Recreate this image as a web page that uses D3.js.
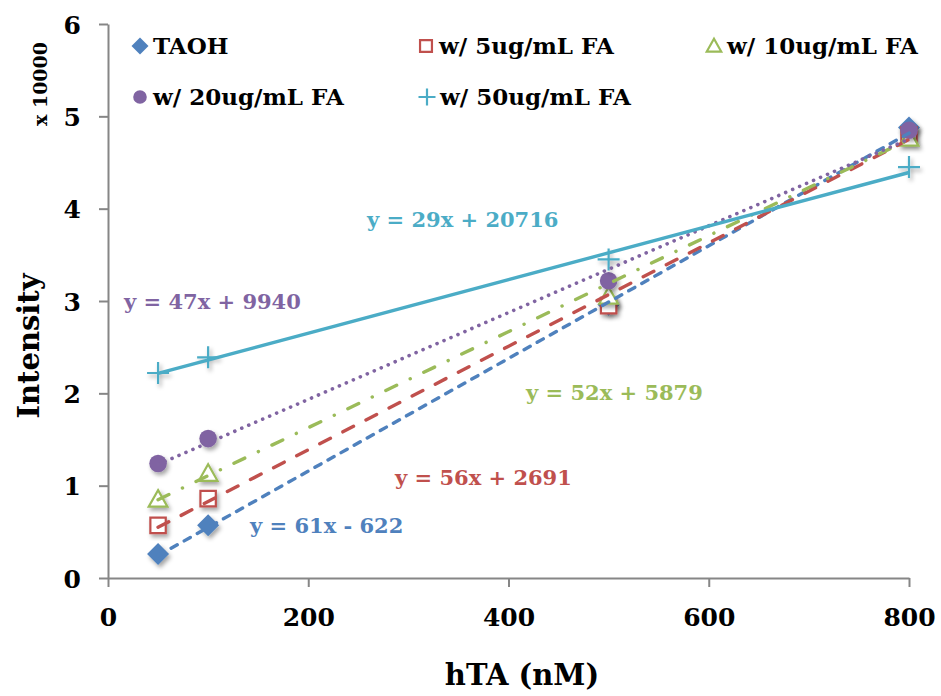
<!DOCTYPE html>
<html>
<head>
<meta charset="utf-8">
<script src="https://cdn.jsdelivr.net/npm/d3@7"></script>
<style>
  body { margin: 0; background: #fff; }
  svg text { font-family: "DejaVu Serif", serif; font-weight: bold; }
</style>
</head>
<body>
<script>
// concentrations on the x axis (nM)
const concs = [50, 100, 500, 800];

// measured intensity, in units of 10000
const taoh   = [0.26, 0.57, 2.96, 4.88];
const fa5    = [0.57, 0.86, 2.95, 4.80];
const fa10   = [0.85, 1.13, 3.05, 4.76];
const fa20   = [1.24, 1.51, 3.22, 4.85];
const fa50   = [2.22, 2.39, 3.45, 4.45];

// linear fits (slope, intercept in raw counts)
const slopes     = [61, 56, 52, 47, 29];
const intercepts = [-622, 2691, 5879, 9940, 20716];

const names  = ["TAOH", "w/ 5ug/mL FA", "w/ 10ug/mL FA", "w/ 20ug/mL FA", "w/ 50ug/mL FA"];
const colors = ["#4f81bd", "#c0504d", "#9bbb59", "#8064a2", "#4bacc6"];
const shapes = ["diamond", "square", "triangle", "circle", "plus"];
const dashes = ["7,8", "12,14", "12,15,0.1,15", "0.1,7.5", null];

const xTicks = [0, 200, 400, 600, 800];
const yTicks = [0, 1, 2, 3, 4, 5, 6];

const series = [taoh, fa5, fa10, fa20, fa50].map((vals, i) => ({
  name: names[i], color: colors[i], shape: shapes[i], dash: dashes[i],
  slope: slopes[i], intercept: intercepts[i],
  points: vals.map((v, j) => ({ x: concs[j], y: v }))
}));

const svg = d3.select("body").append("svg")
    .attr("width", 941)
    .attr("height", 696);

// soft drop shadow under the markers
const defs = svg.append("defs");
defs.append("filter").attr("id", "shadow")
    .attr("x", "-50%").attr("y", "-50%").attr("width", "200%").attr("height", "200%")
  .append("feDropShadow")
    .attr("dx", 2).attr("dy", 3).attr("stdDeviation", 2)
    .attr("flood-color", "#000").attr("flood-opacity", 0.35);

const x = d3.scaleLinear().domain([0, 800]).range([108, 909]);
const y = d3.scaleLinear().domain([0, 6]).range([578, 24]);

// axes
const axisColor = "#868686";
const gx = svg.append("g")
    .attr("transform", "translate(0," + y(0) + ")")
    .call(d3.axisBottom(x).tickValues(xTicks).tickSize(9).tickSizeOuter(0).tickPadding(21));
const gy = svg.append("g")
    .attr("transform", "translate(" + x(0) + ",0)")
    .call(d3.axisLeft(y).tickValues(yTicks).tickFormat(d3.format("d"))
      .tickSize(9).tickSizeOuter(0).tickPadding(18));
[gx, gy].forEach(g => {
  g.select(".domain").attr("stroke", axisColor).attr("stroke-width", 2);
  g.selectAll(".tick line").attr("stroke", axisColor).attr("stroke-width", 2);
  g.selectAll(".tick text")
      .attr("fill", "#000")
      .style("font-size", "25px");
});
gy.selectAll(".tick text").attr("dy", "0.36em");

// marker path generator
function marker(shape, s) {
  if (shape === "diamond") return `M0,${-s}L${s},0L0,${s}L${-s},0Z`;
  if (shape === "square") return `M${-s * 0.7},${-s * 0.7}h${s * 1.4}v${s * 1.4}h${-s * 1.4}Z`;
  if (shape === "triangle") return `M0,${-s * 0.85}L${s * 0.85},${s * 0.65}L${-s * 0.85},${s * 0.65}Z`;
  if (shape === "circle") return d3.symbol(d3.symbolCircle, Math.PI * (s * 0.8) * (s * 0.8))();
  return `M${-s},0H${s}M0,${-s}V${s}`;
}
function styleMarker(sel, d) {
  const filled = d.shape === "diamond" || d.shape === "circle";
  sel.attr("fill", filled ? d.color : (d.shape === "plus" ? "none" : "#fff"))
     .attr("stroke", filled ? "none" : d.color)
     .attr("stroke-width", 2.2);
}

// data markers
const groups = svg.selectAll(".series")
    .data(series)
    .enter().append("g")
    .attr("class", "series");

groups.each(function(d) {
  d3.select(this).selectAll("path.pt")
      .data(d.points)
      .enter().append("path")
      .attr("class", "pt")
      .attr("transform", p => "translate(" + x(p.x) + "," + y(p.y) + ")")
      .attr("d", marker(d.shape, 11))
      .attr("filter", "url(#shadow)")
      .call(styleMarker, d);
});

// trend lines from the fitted equations
const fit = (d, c) => (d.slope * c + d.intercept) / 10000;
const line = d3.line().x(p => x(p[0])).y(p => y(p[1]));
svg.selectAll(".trend")
    .data(series)
    .enter().append("path")
    .attr("class", "trend")
    .attr("d", d => line([[concs[0], fit(d, concs[0])], [concs[3], fit(d, concs[3])]]))
    .attr("fill", "none")
    .attr("stroke", d => d.color)
    .attr("stroke-width", d => d.shape === "circle" ? 3.6 : 3.4)
    .attr("stroke-linecap", d => d.dash ? "round" : "butt")
    .attr("stroke-dasharray", d => d.dash);

// equation labels
const eqPos = [[250, 533], [395, 485], [526, 400], [124, 309], [367, 227]];
svg.selectAll(".eq")
    .data(series)
    .enter().append("text")
    .attr("class", "eq")
    .attr("x", (d, i) => eqPos[i][0])
    .attr("y", (d, i) => eqPos[i][1])
    .attr("fill", d => d.color)
    .style("font-size", "21px")
    .text(d => "y = " + d.slope + "x " + (d.intercept < 0 ? "- " : "+ ") + Math.abs(d.intercept));

// legend
const legPos = [[140, 46], [426, 46], [714, 46], [140, 97], [427, 97]];
const leg = svg.selectAll(".leg")
    .data(series)
    .enter().append("g")
    .attr("class", "leg")
    .attr("transform", (d, i) => "translate(" + legPos[i][0] + "," + legPos[i][1] + ")");
leg.append("path")
    .attr("d", d => marker(d.shape, 8.5))
    .each(function(d) { d3.select(this).call(styleMarker, d); });
leg.append("text")
    .attr("x", 13)
    .attr("dy", "0.36em")
    .style("font-size", "23px")
    .text(d => d.name);

// axis titles
svg.append("text")
    .attr("x", 522)
    .attr("y", 685)
    .attr("text-anchor", "middle")
    .style("font-size", "29px")
    .text("hTA (nM)");
svg.append("text")
    .attr("transform", "translate(39,346) rotate(-90)")
    .attr("text-anchor", "middle")
    .style("font-size", "29px")
    .text("Intensity");
svg.append("text")
    .attr("transform", "translate(47,84) rotate(-90)")
    .attr("text-anchor", "middle")
    .style("font-size", "19px")
    .text("x 10000");
</script>
</body>
</html>
